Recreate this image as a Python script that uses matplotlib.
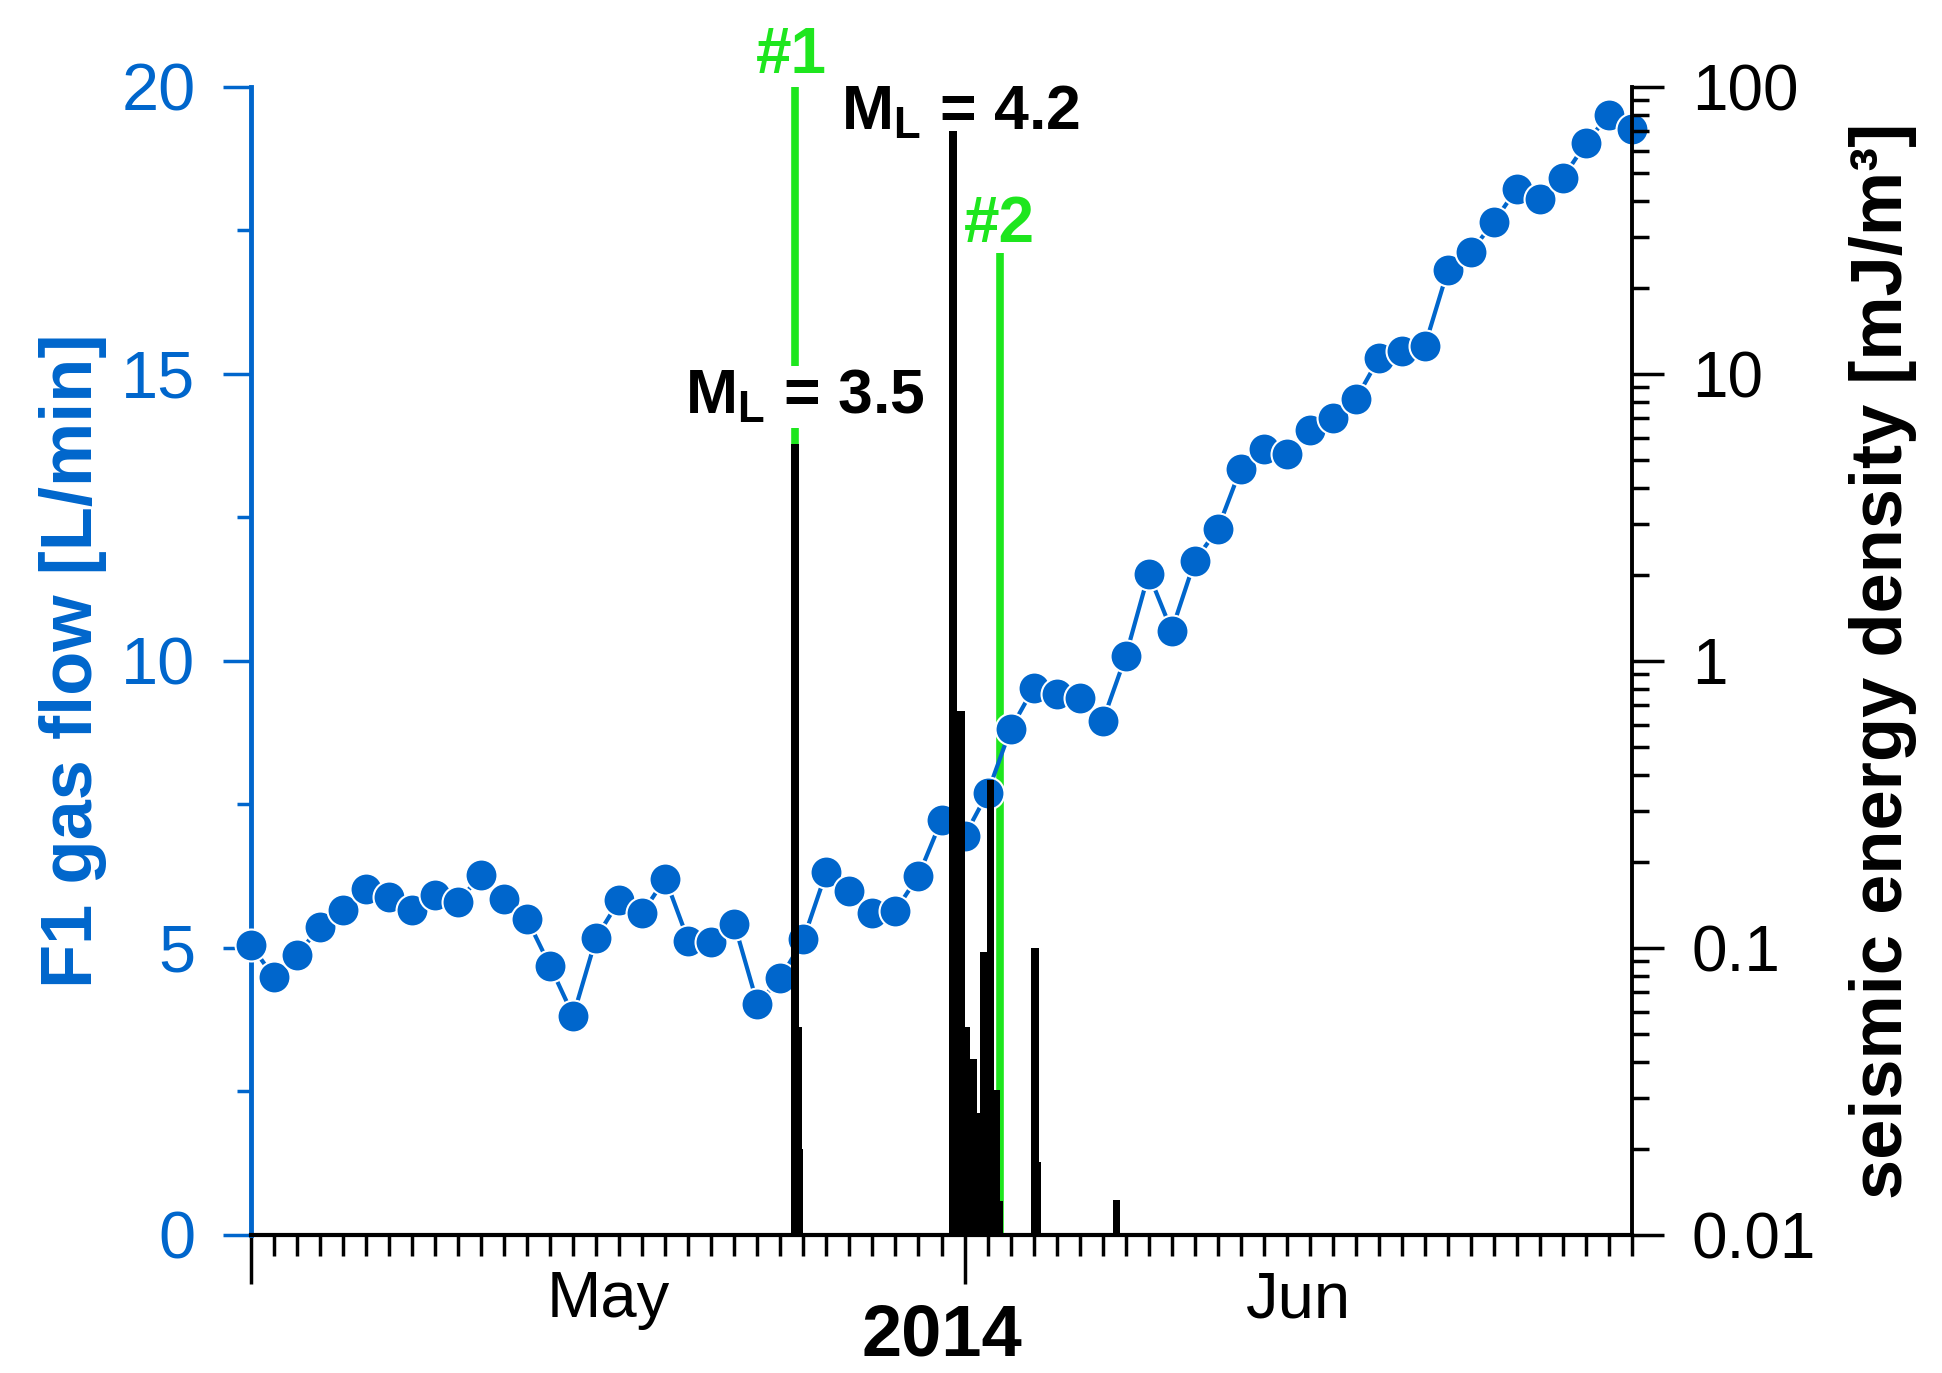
import numpy as np
import pandas as pd
import matplotlib
matplotlib.use('Agg')
import matplotlib.pyplot as plt
import matplotlib.dates as mdates
from matplotlib.ticker import MultipleLocator, NullFormatter, LogLocator

# ---------------- data ----------------
flow_dates = pd.date_range('2014-05-01', '2014-06-30', freq='D')
flow = [5.05, 4.49, 4.88, 5.37, 5.67, 6.02, 5.89, 5.67, 5.93, 5.80,
        6.28, 5.85, 5.50, 4.68, 3.82, 5.18, 5.83, 5.61, 6.21, 5.13,
        5.11, 5.42, 4.03, 4.47, 5.15, 6.33, 6.00, 5.61, 5.65, 6.26,
        7.23, 6.95, 7.70, 8.81, 9.53, 9.43, 9.36, 8.95, 10.08, 11.52,
        10.53, 11.74, 12.30, 13.35, 13.70, 13.61, 14.02, 14.24, 14.56, 15.27,
        15.40, 15.49, 16.81, 17.13, 17.65, 18.23, 18.05, 18.42, 19.02, 19.52,
        19.26]

seis_start = ['2014-05-24 11:30', '2014-05-24 19:25', '2014-05-24 20:25',
              '2014-05-31 07:40', '2014-05-31 16:20', '2014-06-01 01:00',
              '2014-06-01 05:30', '2014-06-01 12:30', '2014-06-01 15:50',
              '2014-06-01 23:30', '2014-06-02 06:30', '2014-06-02 13:25',
              '2014-06-03 21:20', '2014-06-04 05:15', '2014-06-07 10:20']
seis_end = ['2014-05-24 19:25', '2014-05-24 22:20', '2014-05-24 23:15',
            '2014-05-31 16:20', '2014-06-01 01:00', '2014-06-01 05:30',
            '2014-06-01 12:30', '2014-06-01 15:50', '2014-06-01 23:30',
            '2014-06-02 06:30', '2014-06-02 13:25', '2014-06-02 16:35',
            '2014-06-04 05:15', '2014-06-04 08:10', '2014-06-07 18:30']
seis_energy = [5.7, 0.053, 0.02,
               70.0, 0.67, 0.053, 0.041, 0.0266, 0.097, 0.385, 0.032, 0.0131,
               0.10, 0.018, 0.0132]

event_times = ['2014-05-24 15:20', '2014-06-02 12:35']
event_labels = ['#1', '#2']
event_tops = [20.0, 17.1]          # in L/min

quake_times = ['2014-05-24 15:28', '2014-05-31 12:00']
quake_mag = ['3.5', '4.2']
quake_energy = [5.7, 70.0]

right_ticks = [0.01, 0.1, 1, 10, 100]
right_ticklabels = ['0.01', '0.1', '1', '10', '100']
left_ticks = [0, 5, 10, 15, 20]

# ---------------- style ----------------
BLUE = '#0066cc'
GREEN = '#1ee61e'
plt.rcParams['font.family'] = ['Liberation Sans', 'DejaVu Sans']
plt.rcParams['mathtext.fontset'] = 'custom'
plt.rcParams['mathtext.rm'] = 'Liberation Sans'
plt.rcParams['mathtext.bf'] = 'Liberation Sans:bold'
plt.rcParams['mathtext.it'] = 'Liberation Sans:italic'

fig = plt.figure(figsize=(19.42, 13.73), dpi=100)
ax1 = fig.add_axes([0.12925, 0.10051, 0.71112, 0.83613])
ax2 = ax1.twinx()

x0 = flow_dates[0]
x1 = flow_dates[-1]
ax1.set_xlim(x0, x1)
ax1.set_ylim(left_ticks[0], left_ticks[-1])

# event lines (green)
ev_x = pd.to_datetime(event_times)
ax1.vlines(ev_x, 0, event_tops, color=GREEN, lw=5.5, zorder=1)
ev_offsets = [(-3, 10), (0, 8)]
for x, top, lab, off in zip(ev_x, event_tops, event_labels, ev_offsets):
    ax1.annotate(lab, (x, top), xytext=off, textcoords='offset points',
                 ha='center', va='baseline', color=GREEN, fontsize=46,
                 fontweight='bold', annotation_clip=False)

# gas flow
ax1.plot(flow_dates, flow, '-o', color=BLUE, lw=3, ms=23, mfc=BLUE,
         mec='white', mew=1.5, clip_on=False, zorder=3)

# seismic energy bars
s = mdates.date2num(pd.to_datetime(seis_start))
e = mdates.date2num(pd.to_datetime(seis_end))
ax2.set_yscale('log')
ax2.bar(s, np.array(seis_energy) - 0.01, width=e - s, bottom=0.01,
        align='edge', color='black', linewidth=0, zorder=2)
ax2.set_ylim(right_ticks[0], right_ticks[-1])

q_offsets = [(7, 22), (5, 1.5)]
for t, mag, en, off in zip(pd.to_datetime(quake_times), quake_mag, quake_energy, q_offsets):
    ax2.annotate(r'$\mathbf{M_L}$ = ' + mag, (mdates.date2num(t), en), xytext=off,
                 textcoords='offset points', ha='center', va='baseline',
                 fontsize=45, fontweight='bold', color='black',
                 bbox=dict(fc='white', ec='none', pad=1.5), zorder=1,
                 annotation_clip=False)

# spines
ax1.spines['top'].set_visible(False)
ax1.spines['right'].set_visible(False)
ax1.spines['left'].set_color(BLUE)
ax1.spines['left'].set_linewidth(3.5)
ax1.spines['bottom'].set_linewidth(3)
for sp in ['top', 'left', 'bottom']:
    ax2.spines[sp].set_visible(False)
ax2.spines['right'].set_linewidth(2.8)

# left axis ticks
ax1.set_yticks(left_ticks)
ax1.yaxis.set_minor_locator(MultipleLocator(2.5))
ax1.tick_params(axis='y', which='major', direction='out', length=20, width=2.5,
                colors=BLUE, labelsize=48, pad=20)
ax1.tick_params(axis='y', which='minor', direction='out', length=10, width=2.5,
                colors=BLUE)

# bottom axis ticks
ax1.xaxis.set_major_locator(mdates.MonthLocator())
ax1.xaxis.set_major_formatter(NullFormatter())
ax1.xaxis.set_minor_locator(mdates.DayLocator())
ax1.xaxis.set_minor_formatter(NullFormatter())
ax1.tick_params(axis='x', which='major', direction='out', length=35, width=2.5)
ax1.tick_params(axis='x', which='minor', direction='out', length=15, width=2.5)

# month labels centred in each month
month_starts = pd.date_range(x0, x1, freq='MS')
mids, names = [], []
for i, ms_ in enumerate(month_starts):
    end = month_starts[i + 1] if i + 1 < len(month_starts) else x1
    mids.append(mdates.date2num(ms_) + (mdates.date2num(end) - mdates.date2num(ms_)) / 2)
    names.append(ms_.strftime('%b'))
sec = ax1.secondary_xaxis('bottom')
sec.set_xticks(mids)
sec.set_xticklabels(names)
sec.tick_params(axis='x', length=0, pad=25.5, labelsize=47)
sec.spines['bottom'].set_visible(False)

ax1.set_xlabel(str(x0.year), fontsize=52, fontweight='bold')
ax1.xaxis.set_label_coords(0.5, -0.0584)

# right axis ticks
ax2.set_yticks(right_ticks)
ax2.set_yticklabels(right_ticklabels)
ax2.yaxis.set_minor_locator(LogLocator(base=10, subs=np.arange(2, 10)))
ax2.yaxis.set_minor_formatter(NullFormatter())
ax2.tick_params(axis='y', which='major', direction='out', length=23, width=2.5,
                labelsize=46, pad=20)
ax2.tick_params(axis='y', which='minor', direction='out', length=12, width=2.5)

ax1.set_ylabel('F1 gas flow [L/min]', color=BLUE, fontsize=52, fontweight='bold')
ax1.yaxis.set_label_coords(-0.104, 0.5)
ax2.set_ylabel('seismic energy density [mJ/m³]', fontsize=52, fontweight='bold')
ax2.yaxis.set_label_coords(1.157, 0.5)

fig.savefig('out.png', dpi=100)
